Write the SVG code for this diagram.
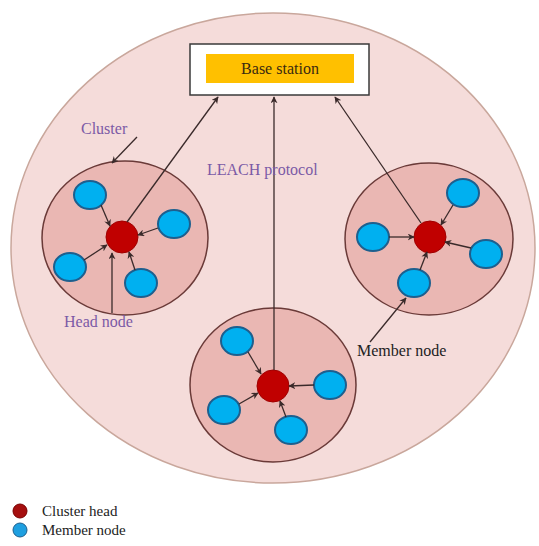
<svg xmlns="http://www.w3.org/2000/svg" width="539" height="546" viewBox="0 0 539 546">
<defs>
<marker id="ah" viewBox="0 0 10 10" refX="9" refY="5" markerWidth="7" markerHeight="7" orient="auto-start-reverse" markerUnits="userSpaceOnUse">
<path d="M0,0 L10,5 L0,10 L3,5 z" fill="#3a2a2a"/>
</marker>
</defs>
<style>
.cl{fill:#eab7b3;stroke:#6a3a38;stroke-width:1.5}
.hd{fill:#c00000;stroke:#a00000;stroke-width:1}
.mb{fill:#00b0f0;stroke:#1d5f8e;stroke-width:2}
.ln{stroke:#3a2a2a;stroke-width:1.3;fill:none}
.pl{font-family:"Liberation Serif",serif;font-size:16px;fill:#7b5aa6}
.bk{font-family:"Liberation Serif",serif;font-size:16px;fill:#222}
</style>
<rect width="539" height="546" fill="#ffffff"/>
<ellipse id="network" cx="273" cy="248" rx="262" ry="235" fill="#f5dcda" stroke="#c9a79c" stroke-width="1.5"/>
<g id="base-station">
<rect x="190" y="44" width="179" height="51" fill="#ffffff" stroke="#3a3a3a" stroke-width="1.5"/>
<rect x="206" y="54" width="148" height="29" fill="#ffc000"/>
<text x="280" y="74" text-anchor="middle" class="bk" style="fill:#3a2a10">Base station</text>
</g>
<g id="cluster-left">
<ellipse class="cl" cx="125" cy="238" rx="83" ry="77"/>
<ellipse class="mb" cx="90" cy="195" rx="16" ry="14"/>
<ellipse class="mb" cx="174" cy="224" rx="16" ry="14"/>
<ellipse class="mb" cx="70" cy="267" rx="16" ry="14"/>
<ellipse class="mb" cx="141" cy="283" rx="16" ry="14"/>
<circle class="hd" cx="122" cy="237" r="16"/>
</g>
<g id="cluster-right">
<ellipse class="cl" cx="429" cy="239" rx="84" ry="76"/>
<ellipse class="mb" cx="463" cy="193" rx="16" ry="14"/>
<ellipse class="mb" cx="373" cy="237" rx="16" ry="14"/>
<ellipse class="mb" cx="486" cy="254" rx="16" ry="14"/>
<ellipse class="mb" cx="414" cy="283" rx="16" ry="14"/>
<circle class="hd" cx="430" cy="237" r="16"/>
</g>
<g id="cluster-bottom">
<ellipse class="cl" cx="273" cy="385" rx="83" ry="77"/>
<ellipse class="mb" cx="237" cy="341" rx="16" ry="14"/>
<ellipse class="mb" cx="330" cy="385" rx="16" ry="14"/>
<ellipse class="mb" cx="224" cy="410" rx="16" ry="14"/>
<ellipse class="mb" cx="291" cy="430" rx="16" ry="14"/>
<circle class="hd" cx="273" cy="386" r="16"/>
</g>
<g id="connectors">
<!-- left cluster members to head -->
<line class="ln" x1="101" y1="205" x2="110" y2="226" marker-end="url(#ah)"/>
<line class="ln" x1="158" y1="228" x2="138" y2="235" marker-end="url(#ah)"/>
<line class="ln" x1="84" y1="260" x2="107" y2="245" marker-end="url(#ah)"/>
<line class="ln" x1="135" y1="270" x2="129" y2="252" marker-end="url(#ah)"/>
<!-- right cluster -->
<line class="ln" x1="453" y1="205" x2="441" y2="225" marker-end="url(#ah)"/>
<line class="ln" x1="389" y1="237" x2="414" y2="237" marker-end="url(#ah)"/>
<line class="ln" x1="471" y1="248" x2="445" y2="242" marker-end="url(#ah)"/>
<line class="ln" x1="420" y1="270" x2="427" y2="252" marker-end="url(#ah)"/>
<!-- bottom cluster -->
<line class="ln" x1="248" y1="352" x2="261" y2="374" marker-end="url(#ah)"/>
<line class="ln" x1="314" y1="385" x2="289" y2="386" marker-end="url(#ah)"/>
<line class="ln" x1="239" y1="404" x2="258" y2="393" marker-end="url(#ah)"/>
<line class="ln" x1="286" y1="417" x2="280" y2="401" marker-end="url(#ah)"/>
<!-- heads to base station -->
<line class="ln" x1="127" y1="222" x2="218" y2="97" marker-end="url(#ah)"/>
<line class="ln" x1="274" y1="370" x2="274" y2="97" marker-end="url(#ah)"/>
<line class="ln" x1="421" y1="223" x2="335" y2="97" marker-end="url(#ah)"/>
<!-- labels -->
<line class="ln" x1="137" y1="137" x2="112" y2="163" marker-end="url(#ah)"/>
<line class="ln" x1="112" y1="313" x2="112" y2="253" marker-end="url(#ah)"/>
<line class="ln" x1="370" y1="342" x2="406" y2="298" marker-end="url(#ah)"/>
</g>
<g id="labels">
<text x="81" y="134" class="pl">Cluster</text>
<text x="207" y="175" class="pl">LEACH protocol</text>
<text x="64" y="327" class="pl">Head node</text>
<text x="357" y="356" class="bk">Member node</text>
</g>
<g id="legend">
<circle cx="20" cy="511" r="7" fill="#a50f0f" stroke="#7a0000"/>
<circle cx="20" cy="530" r="7" fill="#1e9fe0" stroke="#1d5f8e"/>
<text x="42" y="516" class="bk" style="font-size:15px">Cluster head</text>
<text x="42" y="535" class="bk" style="font-size:15px">Member node</text>
</g>
</svg>
